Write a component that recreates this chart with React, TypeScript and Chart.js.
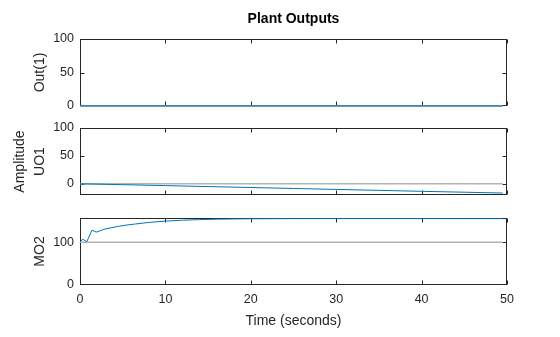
import React, { useEffect, useRef } from 'react';
import { Chart, registerables } from 'chart.js';

Chart.register(...registerables);

// ---- Data ----
const timeTicks = [0, 10, 20, 30, 40, 50];

const out1Time = [0, 10, 20, 30, 40, 49.5];
const out1Values = [0, 0, 0, 0, 0, 0];
const out1Ref = [0, 0];
const out1Ticks = [0, 50, 100];

const uo1Time = [0, 5, 10, 15, 20, 25, 30, 35, 40, 45, 49.5];
const uo1Values = [0, -1.5, -3.2, -4.9, -6.6, -8.3, -10, -11.7, -13.4, -15, -16.5];
const uo1Ref = [0, 0];
const uo1Ticks = [0, 50, 100];

const mo2Time = [0, 0.3, 0.8, 1.4, 1.9, 2.3, 2.8, 3.5, 4.5, 5.5, 6.5, 8, 10, 12, 14, 16, 18, 20, 25, 30, 35, 40, 45, 49.5];
const mo2Values = [100, 107.5, 101.5, 128.5, 124, 126.5, 130.5, 133.5, 137.5, 140.5, 143, 146.5, 149.8, 151.8, 153.2, 154.2, 154.8, 155.2, 155.5, 155.6, 155.6, 155.6, 155.5, 155.5];
const mo2Ref = [100, 100];
const mo2Ticks = [0, 100];

const refTime = [0, 49.5];

const BLUE = '#0072BD';
const GRAY = '#b3b3b3';
const AXIS = '#262626';
const FONT = '"Liberation Sans", Arial, Helvetica, sans-serif';

const boxPlugin = {
  id: 'boxTicks',
  beforeDatasetsDraw(chart: any) {
    const { ctx, chartArea: a, scales } = chart;
    const xs = scales.x;
    const ys = scales.y;
    const L = Math.round(a.left) + 0.5;
    const R = Math.round(a.right) - 0.5;
    const T = Math.round(a.top) + 0.5;
    const B = Math.round(a.bottom) - 0.5;
    ctx.save();
    ctx.strokeStyle = AXIS;
    ctx.lineWidth = 1;
    ctx.strokeRect(L, T, R - L, B - T);
    ctx.beginPath();
    const len = 4;
    for (const v of timeTicks) {
      const px = Math.round(xs.getPixelForValue(v)) + 0.5;
      ctx.moveTo(px, B);
      ctx.lineTo(px, B - len);
      ctx.moveTo(px, T);
      ctx.lineTo(px, T + len);
    }
    for (const t of ys.ticks) {
      const py = Math.min(Math.max(Math.round(ys.getPixelForValue(t.value)) + 0.5, T), B);
      ctx.moveTo(L, py);
      ctx.lineTo(L + len, py);
      ctx.moveTo(R, py);
      ctx.lineTo(R - len, py);
    }
    ctx.stroke();
    ctx.restore();
  },
};

type PanelCfg = {
  time: number[];
  values: number[];
  ref: number[];
  yMin: number;
  yMax: number;
  yTicks: number[];
  yTitle: string | string[];
  yTitleLineHeight: string;
  yTitlePadTop: number;
  padTop: number;
  padBottom: number;
  showX: boolean;
  title?: string;
};

function buildChart(canvas: HTMLCanvasElement, c: PanelCfg) {
  const series = c.time.map((t, i) => ({ x: t, y: c.values[i] }));
  const refSeries = refTime.map((t, i) => ({ x: t, y: c.ref[i] }));
  return new Chart(canvas, {
    type: 'line',
    data: {
      datasets: [
        {
          data: series,
          borderColor: BLUE,
          borderWidth: 1,
          pointRadius: 0,
          tension: 0,
          fill: false,
          clip: 3,
        },
        {
          data: refSeries,
          borderColor: GRAY,
          borderWidth: 1.5,
          pointRadius: 0,
          tension: 0,
          fill: false,
          clip: 3,
        },
      ],
    },
    options: {
      responsive: false,
      animation: false,
      devicePixelRatio: 1,
      layout: { padding: { top: c.padTop, bottom: c.padBottom, left: 0, right: 53 } },
      plugins: {
        legend: { display: false },
        tooltip: { enabled: false },
        title: c.title
          ? {
              display: true,
              fullSize: false,
              text: c.title,
              color: '#000',
              font: { family: FONT, size: 14, weight: 'bold', lineHeight: 1.2 },
              padding: { top: 11, bottom: 11.2 },
            }
          : { display: false },
      },
      scales: {
        x: {
          type: 'linear',
          min: 0,
          max: 50,
          display: c.showX,
          afterBuildTicks: (s: any) => {
            s.ticks = timeTicks.map((v) => ({ value: v }));
          },
          afterFit: (s: any) => {
            if (c.showX) s.height = 52;
          },
          grid: { display: false, drawTicks: false },
          border: { display: false },
          ticks: {
            color: AXIS,
            padding: 7,
            maxRotation: 0,
            font: { family: FONT, size: 12.5 },
          },
          title: {
            display: c.showX,
            text: 'Time (seconds)',
            color: AXIS,
            font: { family: FONT, size: 14, lineHeight: 1.2 },
            padding: { top: 0, bottom: 7 },
          },
        },
        y: {
          type: 'linear',
          min: c.yMin,
          max: c.yMax,
          afterBuildTicks: (s: any) => {
            s.ticks = c.yTicks.map((v) => ({ value: v }));
          },
          afterFit: (s: any) => {
            s.width = 80;
            s.paddingTop = 0;
            s.paddingBottom = 0;
          },
          grid: { display: false, drawTicks: false },
          border: { display: false },
          ticks: {
            color: AXIS,
            padding: 6,
            font: { family: FONT, size: 12.5 },
          },
          title: {
            display: true,
            text: c.yTitle as any,
            color: AXIS,
            font: { family: FONT, size: 14, lineHeight: c.yTitleLineHeight },
            padding: { top: c.yTitlePadTop, bottom: 0 },
          },
        },
      },
    },
    plugins: [boxPlugin],
  } as any);
}

export default function App() {
  const r1 = useRef<HTMLCanvasElement>(null);
  const r2 = useRef<HTMLCanvasElement>(null);
  const r3 = useRef<HTMLCanvasElement>(null);

  useEffect(() => {
    const charts: Chart[] = [];
    if (r1.current) {
      charts.push(
        buildChart(r1.current, {
          time: out1Time,
          values: out1Values,
          ref: out1Ref,
          yMin: 0,
          yMax: 100,
          yTicks: out1Ticks,
          yTitle: 'Out(1)',
          yTitleLineHeight: '16.8px',
          yTitlePadTop: 31.6,
          padTop: 0,
          padBottom: 9,
          showX: false,
          title: 'Plant Outputs',
        })
      );
    }
    if (r2.current) {
      charts.push(
        buildChart(r2.current, {
          time: uo1Time,
          values: uo1Values,
          ref: uo1Ref,
          yMin: -20,
          yMax: 100,
          yTicks: uo1Ticks,
          yTitle: ['Amplitude', 'UO1'],
          yTitleLineHeight: '20px',
          yTitlePadTop: 10,
          padTop: 13,
          padBottom: 10,
          showX: false,
        })
      );
    }
    if (r3.current) {
      charts.push(
        buildChart(r3.current, {
          time: mo2Time,
          values: mo2Values,
          ref: mo2Ref,
          yMin: 0,
          yMax: 157,
          yTicks: mo2Ticks,
          yTitle: 'MO2',
          yTitleLineHeight: '16.8px',
          yTitlePadTop: 31.6,
          padTop: 13,
          padBottom: 0,
          showX: true,
        })
      );
    }
    return () => charts.forEach((ch) => ch.destroy());
  }, []);

  const cs = (top: number): React.CSSProperties => ({ position: 'absolute', left: 0, top, display: 'block' });

  return (
    <div style={{ position: 'absolute', left: 0, top: 0, width: 560, height: 337, background: '#fff' }}>
      <canvas ref={r1} width={560} height={115} style={cs(0)} />
      <canvas ref={r2} width={560} height={90} style={cs(115)} />
      <canvas ref={r3} width={560} height={132} style={cs(205)} />
    </div>
  );
}
